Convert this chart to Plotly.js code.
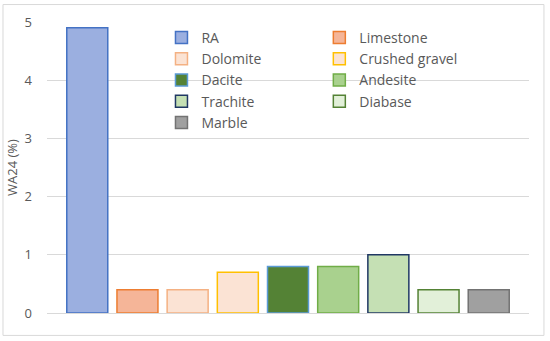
<!DOCTYPE html>
<html>
<head>
<meta charset="utf-8">
<script src="https://cdn.plot.ly/plotly-3.0.1.min.js"></script>
<style>
html,body{margin:0;padding:0;background:#fff;}
#chart{width:550px;height:341px;}
</style>
</head>
<body>
<div id="chart"></div>
<script>
var materials = ["RA", "Limestone", "Dolomite", "Crushed gravel", "Dacite", "Andesite", "Trachite", "Diabase", "Marble"];
var wa24 = [4.9, 0.4, 0.4, 0.7, 0.8, 0.8, 1.0, 0.4, 0.4];
var fillColors = ["#9bafe0", "#f5b598", "#fbe3d4", "#fbe3d4", "#548235", "#a9d18e", "#c5e0b4", "#e2f0d9", "#a0a0a0"];
var lineColors = ["#4472c4", "#ed7d31", "#f4b183", "#ffc000", "#5b9bd5", "#70ad47", "#203864", "#548235", "#737373"];
var yTicks = [0, 1, 2, 3, 4, 5];

var traces = materials.map(function (m, i) {
  return {
    type: "bar",
    name: m,
    x: ["WA24"],
    y: [wa24[i]],
    legend: (i % 2 === 0) ? "legend" : "legend2",
    marker: { color: fillColors[i], line: { color: lineColors[i], width: 1.5 } },
    hoverinfo: "name+y"
  };
});

var legendFont = { size: 14, color: "#595959" };

var layout = {
  width: 550,
  height: 341,
  margin: { l: 47, r: 21, t: 21.5, b: 27.5 },
  paper_bgcolor: "#ffffff",
  plot_bgcolor: "#ffffff",
  font: { family: "Open Sans, Liberation Sans, sans-serif", color: "#595959", size: 12 },
  barmode: "group",
  bargap: 0.063,
  bargroupgap: 0.183,
  showlegend: true,
  legend: {
    orientation: "v",
    x: 0.2375,
    xanchor: "left",
    y: 1.0,
    yanchor: "top",
    traceorder: "normal",
    itemwidth: 30,
    font: legendFont,
    bgcolor: "rgba(255,255,255,0)",
    tracegroupgap: 0
  },
  legend2: {
    orientation: "v",
    x: 0.565,
    xanchor: "left",
    y: 1.0,
    yanchor: "top",
    traceorder: "normal",
    itemwidth: 30,
    font: legendFont,
    bgcolor: "rgba(255,255,255,0)",
    tracegroupgap: 0
  },
  xaxis: {
    type: "category",
    showticklabels: false,
    showgrid: false,
    zeroline: false,
    showline: false,
    ticks: ""
  },
  yaxis: {
    range: [0, 5],
    tickvals: yTicks,
    ticktext: yTicks.map(String),
    showgrid: true,
    gridcolor: "#d9d9d9",
    gridwidth: 1,
    zeroline: true,
    zerolinecolor: "#d9d9d9",
    zerolinewidth: 1,
    showline: false,
    ticks: "",
    ticklabelstandoff: 14,
    tickfont: { size: 13, color: "#595959" },
    title: { text: "WA24 (%)", font: { size: 13, color: "#595959" }, standoff: 4 }
  },
  shapes: [{
    type: "rect",
    xref: "paper", yref: "paper",
    x0: -0.0913, x1: 1.031, y0: -0.077, y1: 1.06,
    line: { color: "#d9d9d9", width: 1 },
    fillcolor: "rgba(0,0,0,0)",
    layer: "below"
  }]
};

Plotly.newPlot("chart", traces, layout, { displayModeBar: false, staticPlot: true });
</script>
</body>
</html>
